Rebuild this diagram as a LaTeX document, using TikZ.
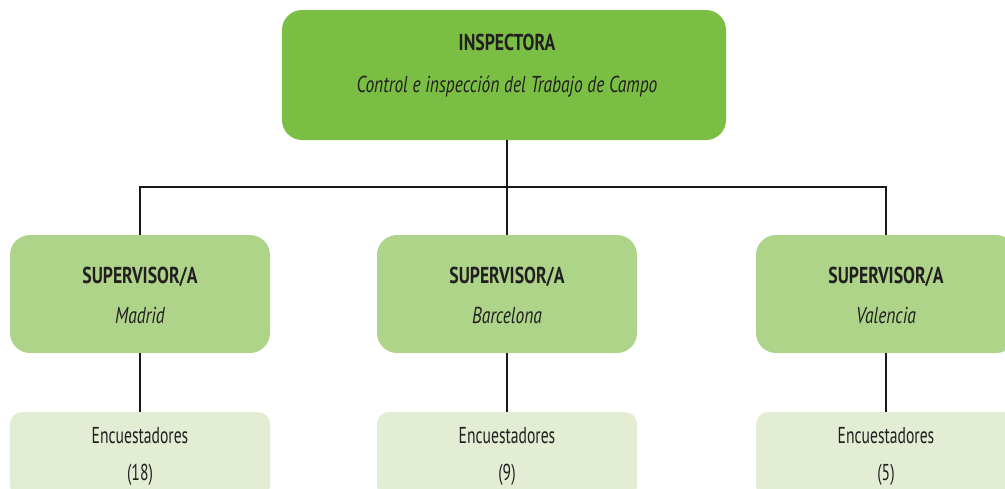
\documentclass[tikz,border=0pt]{standalone}
\usepackage{fontspec}
\setmainfont{PT Sans}[FakeStretch=0.68, BoldFeatures={FakeStretch=0.77}, ItalicFeatures={FakeStretch=0.76}]
\usepackage{xcolor}
\usepackage{tikz}

\definecolor{inspgreen}{HTML}{7ABF43}
\definecolor{supgreen}{HTML}{AED48A}
\definecolor{encgreen}{HTML}{E2EDD4}
\definecolor{txtdark}{HTML}{231F20}

\tikzset{
    orgbox/.style={rectangle, rounded corners=20pt, inner sep=0pt, minimum width=260pt},
    orgtext/.style={anchor=base, inner sep=0pt, text=txtdark, font=\fontsize{23}{27}\selectfont},
    orgline/.style={line width=2.4pt, black!90}
}

\begin{document}
\begin{tikzpicture}[x=1pt, y=-1pt]

    \useasboundingbox (0,0) rectangle (1005,488);

    \node[orgbox, fill=inspgreen, minimum width=444pt, minimum height=130pt] (insp) at (504,75) {};
    \node[orgtext, font=\fontsize{23}{27}\selectfont\bfseries] (inspT) at (507,50) {INSPECTORA};
    \node[orgtext, font=\fontsize{23}{27}\selectfont\itshape] (inspS) at (507,92) {Control e inspección del Trabajo de Campo};

    \foreach \x/\k/\city/\n in {140/1/Madrid/18, 507/2/Barcelona/9, 886/3/Valencia/5} {
        \node[orgbox, fill=supgreen, minimum height=118pt] (sup\k) at (\x,294) {};
        \node[orgtext, font=\fontsize{23}{27}\selectfont\bfseries] (supT\k) at (\x,283) {SUPERVISOR/A};
        \node[orgtext, font=\fontsize{23}{27}\selectfont\itshape] (supS\k) at (\x,323) {\city};

        \node[orgbox, rounded corners=12pt, fill=encgreen, minimum height=86pt] (enc\k) at (\x,455) {};
        \node[orgtext] (encT\k) at (\x,443) {Encuestadores};
        \node[orgtext] (encN\k) at (\x,480) {(\n)};

        \draw[orgline] (sup\k.south) -- (enc\k.north);
    }

    \coordinate (fork) at (507,187);
    \draw[orgline] (insp.south -| sup2.north) -- (sup2.north);
    \draw[orgline] (sup1.north) |- (fork) -| (sup3.north);

\end{tikzpicture}
\end{document}
